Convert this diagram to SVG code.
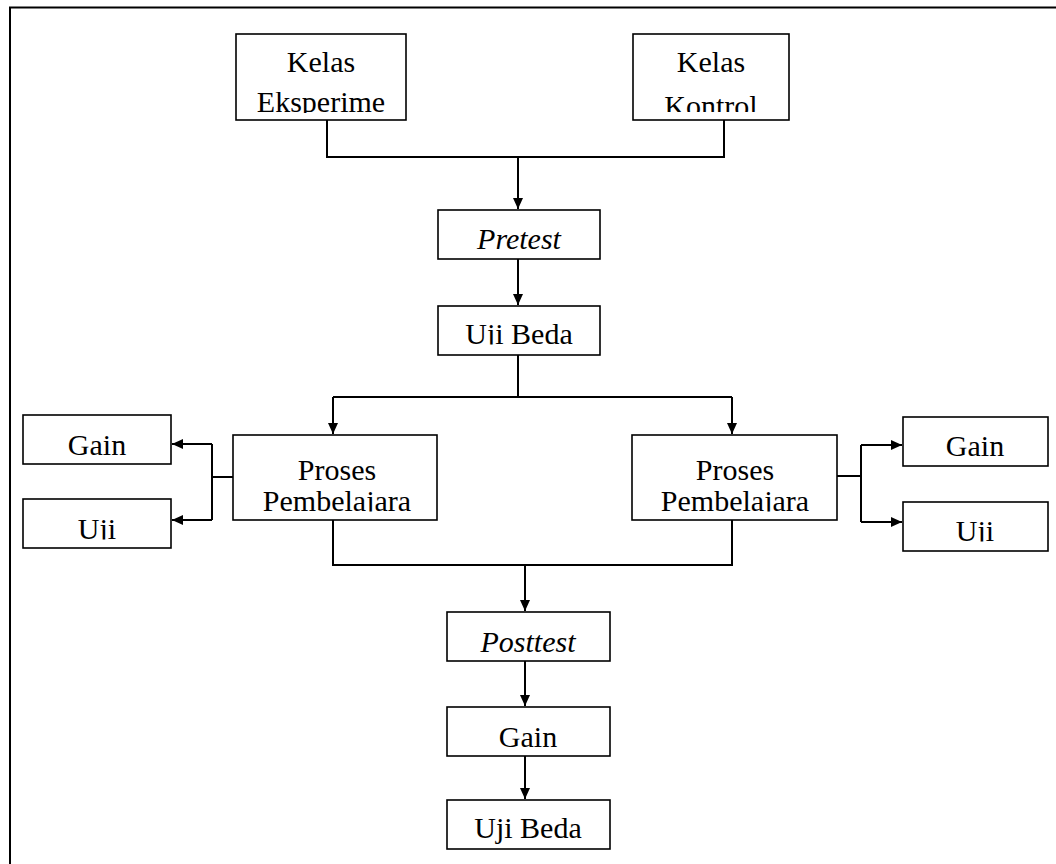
<svg xmlns="http://www.w3.org/2000/svg" width="1056" height="864" viewBox="0 0 1056 864">
<style>
.box{fill:#fff;stroke:#000;stroke-width:1.6}
.t{font-family:"Liberation Serif","Times New Roman",serif;font-size:30px;fill:#000;text-anchor:middle}
.i{font-style:italic}
.c{fill:none;stroke:#000;stroke-width:2}
</style>
<defs>
<marker id="ah" markerUnits="userSpaceOnUse" markerWidth="12" markerHeight="10" refX="11" refY="5" orient="auto">
<path d="M0,0 L11,5 L0,10 Z" fill="#000"/>
</marker>
<clipPath id="cEks"><rect x="237" y="36" width="168" height="77"/></clipPath>
<clipPath id="cKon"><rect x="634" y="36" width="154" height="76"/></clipPath>
<clipPath id="cUji1"><rect x="439" y="307" width="160" height="37.5"/></clipPath>
<clipPath id="cPL"><rect x="234" y="436" width="202" height="75.5"/></clipPath>
<clipPath id="cPR"><rect x="633" y="436" width="203" height="75.5"/></clipPath>
<clipPath id="cUL"><rect x="24" y="500" width="146" height="39.5"/></clipPath>
<clipPath id="cUR"><rect x="904" y="503" width="143" height="38.5"/></clipPath>
</defs>
<rect x="10" y="7.5" width="1100" height="1000" fill="none" stroke="#000" stroke-width="2"/>
<g id="connectors">
<path class="c" d="M327,120 V157 H724 V120"/>
<path class="c" d="M518,157 V209" marker-end="url(#ah)"/>
<path class="c" d="M518,259 V305" marker-end="url(#ah)"/>
<path class="c" d="M518,355 V397"/>
<path class="c" d="M333,397 H732"/>
<path class="c" d="M333,397 V434" marker-end="url(#ah)"/>
<path class="c" d="M732,397 V434" marker-end="url(#ah)"/>
<path class="c" d="M233,477 H212"/>
<path class="c" d="M212,444 V520"/>
<path class="c" d="M212,444 H172" marker-end="url(#ah)"/>
<path class="c" d="M212,520 H172" marker-end="url(#ah)"/>
<path class="c" d="M837,476 H861"/>
<path class="c" d="M861,445 V522"/>
<path class="c" d="M861,445 H902" marker-end="url(#ah)"/>
<path class="c" d="M861,522 H902" marker-end="url(#ah)"/>
<path class="c" d="M333,520 V565 H732 V520"/>
<path class="c" d="M525,565 V611" marker-end="url(#ah)"/>
<path class="c" d="M525,661 V706" marker-end="url(#ah)"/>
<path class="c" d="M525,756 V799" marker-end="url(#ah)"/>
</g>
<g id="kelas-eksperimen">
<rect class="box" x="236" y="34" width="170" height="86"/>
<g clip-path="url(#cEks)"><text class="t" x="321" y="72">Kelas</text><text class="t" x="321" y="112">Eksperime</text></g>
</g>
<g id="kelas-kontrol">
<rect class="box" x="633" y="34" width="156" height="86"/>
<g clip-path="url(#cKon)"><text class="t" x="711" y="72">Kelas</text><text class="t" x="711" y="116">Kontrol</text></g>
</g>
<g id="pretest">
<rect class="box" x="438" y="210" width="162" height="49"/>
<text class="t i" x="519" y="249">Pretest</text>
</g>
<g id="uji-beda-1">
<rect class="box" x="438" y="306" width="162" height="49"/>
<g clip-path="url(#cUji1)"><text class="t" x="519" y="344">Uji Beda</text></g>
</g>
<g id="proses-kiri">
<rect class="box" x="233" y="435" width="204" height="85"/>
<g clip-path="url(#cPL)"><text class="t" x="337" y="480">Proses</text><text class="t" x="337" y="511">Pembelajara</text></g>
</g>
<g id="proses-kanan">
<rect class="box" x="632" y="435" width="205" height="85"/>
<g clip-path="url(#cPR)"><text class="t" x="735" y="480">Proses</text><text class="t" x="735" y="511">Pembelajara</text></g>
</g>
<g id="gain-kiri">
<rect class="box" x="23" y="415" width="148" height="49"/>
<text class="t" x="97" y="455">Gain</text>
</g>
<g id="uji-kiri">
<rect class="box" x="23" y="499" width="148" height="49"/>
<g clip-path="url(#cUL)"><text class="t" x="97" y="539">Uji</text></g>
</g>
<g id="gain-kanan">
<rect class="box" x="903" y="417" width="145" height="49"/>
<text class="t" x="975" y="456">Gain</text>
</g>
<g id="uji-kanan">
<rect class="box" x="903" y="502" width="145" height="49"/>
<g clip-path="url(#cUR)"><text class="t" x="975" y="541">Uji</text></g>
</g>
<g id="posttest">
<rect class="box" x="447" y="612" width="163" height="49"/>
<text class="t i" x="528" y="652">Posttest</text>
</g>
<g id="gain">
<rect class="box" x="447" y="707" width="163" height="49"/>
<text class="t" x="528" y="747">Gain</text>
</g>
<g id="uji-beda-2">
<rect class="box" x="447" y="800" width="163" height="49"/>
<text class="t" x="528" y="838">Uji Beda</text>
</g>
</svg>
